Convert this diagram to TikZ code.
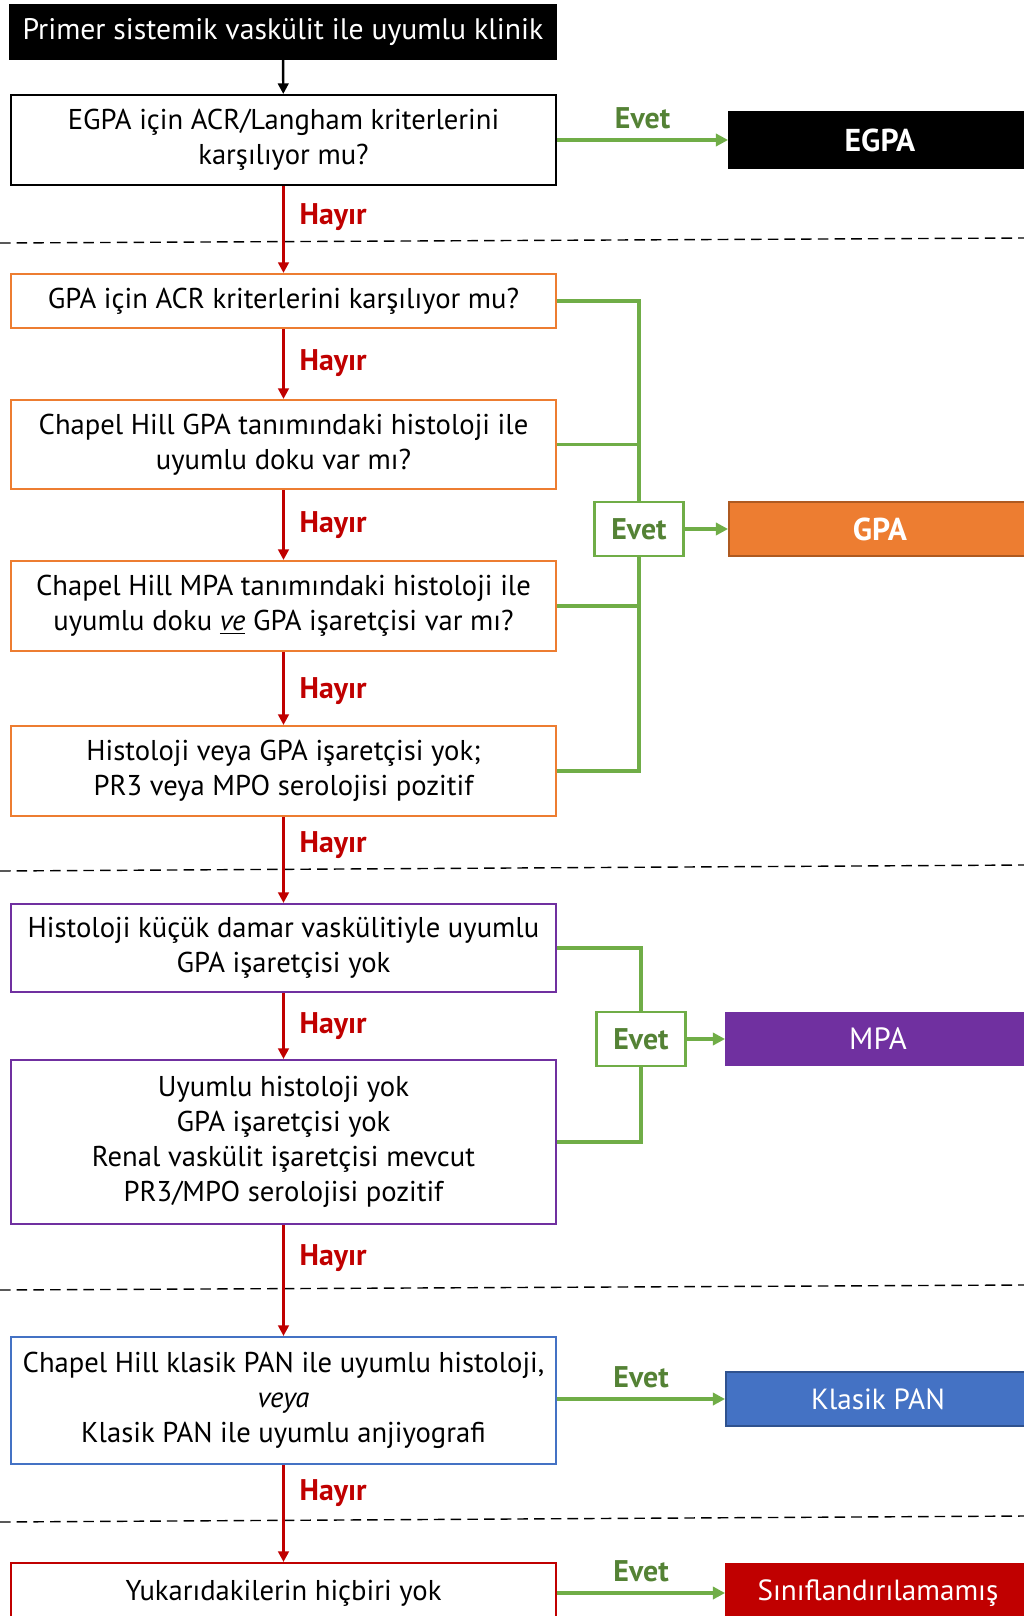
\documentclass[tikz,border=0pt]{standalone}
\usepackage{fontspec}
\setmainfont{PT Sans}
\usepackage{tikz}
\usetikzlibrary{arrows.meta}

\definecolor{evetgreen}{HTML}{70AD47}
\definecolor{evettext}{HTML}{548235}
\definecolor{hayirred}{HTML}{C00000}
\definecolor{gpaorange}{HTML}{ED7D31}
\definecolor{gpaborder}{HTML}{AE5A21}
\definecolor{mpapurple}{HTML}{7030A0}
\definecolor{panblue}{HTML}{4472C4}
\definecolor{panborder}{HTML}{2F528F}

\tikzset{
  qbox/.style={draw, line width=1.2pt, minimum width=10.9cm, inner sep=0pt,
    align=center, font=\fontsize{16.3}{19.8}\selectfont},
  resbox/.style={draw, line width=1.1pt, minimum width=6.04cm, inner sep=0pt,
    text=white, font=\fontsize{16.6}{19.8}\selectfont},
  resbold/.style={font=\fontsize{18}{19.8}\selectfont\bfseries},
  evetbox/.style={draw=evetgreen, line width=1.3pt, minimum width=1.78cm,
    minimum height=1.08cm, inner sep=0pt, text=evettext,
    font=\fontsize{17}{19.8}\selectfont\bfseries},
  hayir/.style={->, >={Triangle[length=6pt,width=6pt]}, hayirred, line width=1.7pt},
  evet/.style={->, >={Triangle[length=7pt,width=7pt]}, evetgreen, line width=2pt},
  bracket/.style={evetgreen, line width=2pt},
  hlabel/.style={text=hayirred, font=\fontsize{17}{19.8}\selectfont\bfseries,
    right, xshift=5pt},
  elabel/.style={text=evettext, font=\fontsize{17}{19.8}\selectfont\bfseries,
    above, yshift=2pt},
  sep/.style={dashed, dash pattern=on 6pt off 3.5pt, line width=0.8pt}
}

\begin{document}
\begin{tikzpicture}[x=0.02cm,y=-0.02cm]
  \useasboundingbox (0,0) rectangle (1024,1616);
  \clip (0,0) rectangle (1024,1616);

  % Start
  \node[qbox, fill=black, text=white, minimum width=10.92cm, minimum height=1.08cm,
    font=\fontsize{16.9}{19.8}\selectfont]
    (start) at (283,32) {Primer sistemik vaskülit ile uyumlu klinik};

  % EGPA
  \node[qbox, minimum height=1.8cm] (qegpa) at (283.5,140)
    {EGPA için ACR/Langham kriterlerini\\karşılıyor mu?};
  \node[resbox, resbold, draw=black, fill=black, minimum height=1.12cm]
    (regpa) at (880,140) {EGPA};

  % GPA questions
  \node[qbox, draw=gpaorange, minimum height=1.08cm] (qgpa1) at (283.5,301)
    {GPA için ACR kriterlerini karşılıyor mu?};
  \node[qbox, draw=gpaorange, minimum height=1.78cm] (qgpa2) at (283.5,444.5)
    {Chapel Hill GPA tanımındaki histoloji ile\\uyumlu doku var mı?};
  \node[qbox, draw=gpaorange, minimum height=1.8cm] (qgpa3) at (283.5,606)
    {Chapel Hill MPA tanımındaki histoloji ile\\uyumlu doku \underline{\textit{ve}} GPA işaretçisi var mı?};
  \node[qbox, draw=gpaorange, minimum height=1.8cm] (qgpa4) at (283.5,771)
    {Histoloji veya GPA işaretçisi yok;\\PR3 veya MPO serolojisi pozitif};
  \node[evetbox] (eg) at (639,529) {Evet};
  \node[resbox, resbold, draw=gpaborder, fill=gpaorange, minimum height=1.08cm]
    (rgpa) at (880,529) {GPA};

  % MPA questions
  \node[qbox, draw=mpapurple, minimum height=1.76cm] (qmpa1) at (283.5,948)
    {Histoloji küçük damar vaskülitiyle uyumlu\\GPA işaretçisi yok};
  \node[qbox, draw=mpapurple, minimum height=3.28cm] (qmpa2) at (283.5,1142)
    {Uyumlu histoloji yok\\GPA işaretçisi yok\\Renal vaskülit işaretçisi mevcut\\PR3/MPO serolojisi pozitif};
  \node[evetbox] (em) at (641,1039) {Evet};
  \node[resbox, draw=mpapurple, fill=mpapurple, minimum height=1.06cm, minimum width=6.08cm,
    font=\fontsize{17.5}{19.8}\selectfont]
    (rmpa) at (878,1039) {MPA};

  % PAN
  \node[qbox, draw=panblue, minimum height=2.54cm] (qpan) at (283.5,1400.5)
    {Chapel Hill klasik PAN ile uyumlu histoloji,\\\textit{veya}\\Klasik PAN ile uyumlu anjiyografi};
  \node[resbox, draw=panborder, fill=panblue, minimum height=1.08cm, minimum width=6.08cm]
    (rpan) at (878,1399) {Klasik PAN};

  % None
  \node[qbox, draw=hayirred, minimum height=1.2cm] (qnone) at (283.5,1593)
    {Yukarıdakilerin hiçbiri yok};
  \node[resbox, draw=hayirred, fill=hayirred, minimum height=1.16cm, minimum width=6.08cm]
    (rnone) at (878,1593) {Sınıflandırılamamış};

  % Separators
  \draw[sep] (0,243) -- (1024,238);
  \draw[sep] (0,871) -- (1024,865);
  \draw[sep] (0,1290) -- (1024,1285);
  \draw[sep] (0,1522) -- (1024,1516);

  % Hayir arrows
  \draw[->, >={Triangle[length=6pt,width=6pt]}, line width=1.4pt] (start) -- (qegpa);
  \draw[hayir] (qegpa) -- node[hlabel, pos=0.36] {Hayır} (qgpa1);
  \draw[hayir] (qgpa1) -- node[hlabel, pos=0.48] {Hayır} (qgpa2);
  \draw[hayir] (qgpa2) -- node[hlabel, pos=0.5] {Hayır} (qgpa3);
  \draw[hayir] (qgpa3) -- node[hlabel, pos=0.53] {Hayır} (qgpa4);
  \draw[hayir] (qgpa4) -- node[hlabel, pos=0.33] {Hayır} (qmpa1);
  \draw[hayir] (qmpa1) -- node[hlabel, pos=0.5] {Hayır} (qmpa2);
  \draw[hayir] (qmpa2) -- node[hlabel, pos=0.3] {Hayır} (qpan);
  \draw[hayir] (qpan) -- node[hlabel, pos=0.29] {Hayır} (qnone);

  % Evet arrows
  \draw[evet] (qegpa) -- node[elabel] {Evet} (regpa);
  \draw[bracket] (qgpa1.east) -| (eg.north);
  \draw[bracket] (qgpa2.east) -| (eg.north);
  \draw[bracket] (qgpa3.east) -| (eg.south);
  \draw[bracket] (qgpa4.east) -| (eg.south);
  \draw[evet] (eg) -- (rgpa);
  \draw[bracket] (qmpa1.east) -| (em.north);
  \draw[bracket] (qmpa2.east) -| (em.south);
  \draw[evet] (em) -- (rmpa);
  \draw[evet] (qpan.east |- rpan) -- node[elabel] {Evet} (rpan);
  \draw[evet] (qnone) -- node[elabel] {Evet} (rnone);
\end{tikzpicture}
\end{document}
